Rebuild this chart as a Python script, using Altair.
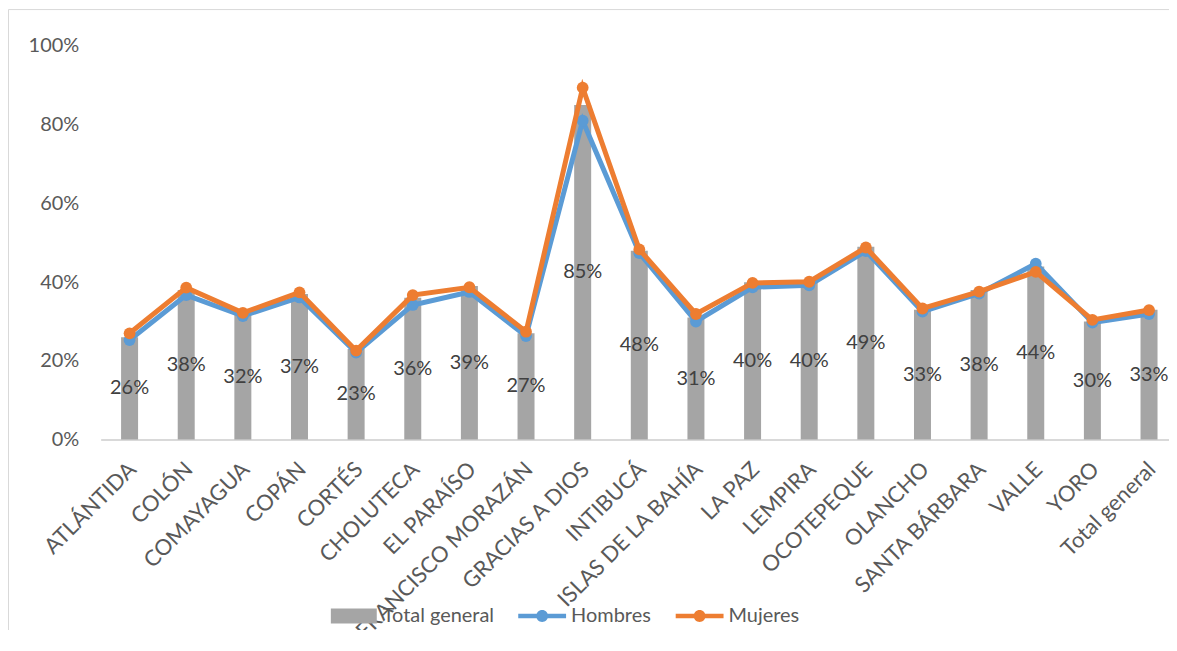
import altair as alt
import pandas as pd

categories = ["ATLÁNTIDA", "COLÓN", "COMAYAGUA", "COPÁN", "CORTÉS", "CHOLUTECA",
              "EL PARAÍSO", "FRANCISCO MORAZÁN", "GRACIAS A DIOS", "INTIBUCÁ",
              "ISLAS DE LA BAHÍA", "LA PAZ", "LEMPIRA", "OCOTEPEQUE", "OLANCHO",
              "SANTA BÁRBARA", "VALLE", "YORO", "Total general"]
total = [0.26, 0.38, 0.32, 0.37, 0.23, 0.36, 0.39, 0.27, 0.85, 0.48,
         0.31, 0.40, 0.40, 0.49, 0.33, 0.38, 0.44, 0.30, 0.33]
hombres = [0.253, 0.367, 0.314, 0.361, 0.221, 0.342, 0.375, 0.263, 0.810, 0.474,
           0.300, 0.387, 0.392, 0.479, 0.325, 0.371, 0.447, 0.297, 0.319]
mujeres = [0.270, 0.386, 0.322, 0.374, 0.226, 0.367, 0.387, 0.274, 0.894, 0.483,
           0.319, 0.398, 0.401, 0.488, 0.333, 0.376, 0.426, 0.304, 0.329]
series = ["Total general", "Hombres", "Mujeres"]
series_colors = ["#A5A5A5", "#5B9BD5", "#ED7D31"]
y_ticks = [0, 0.2, 0.4, 0.6, 0.8, 1.0]

df = pd.DataFrame({"cat": categories, "total": total,
                   "hombres": hombres, "mujeres": mujeres})
legend_df = pd.DataFrame({"series": series})

FONT = "Lato"
GRAY_TXT = "#595959"

rect_path = "M-0.96,-0.31H0.96V0.31H-0.96Z"
line_path = ("M-1,-0.09H1V0.09H-1Z "
             "M-0.25,0A0.25,0.25 0 1,1 0.25,0A0.25,0.25 0 1,1 -0.25,0Z")

x_enc = alt.X(
    "cat:N", sort=categories,
    scale=alt.Scale(paddingInner=0.7, paddingOuter=0.2815, align=0.64),
    axis=alt.Axis(title=None, labelAngle=-45, labelAlign="right",
                  labelBaseline="middle", labelFont=FONT, labelFontSize=22,
                  labelColor=GRAY_TXT, ticks=False, tickSize=0,
                  domainColor="#D9D9D9", domainWidth=2, labelPadding=26,
                  labelOffset=3, grid=False, labelOverlap=False, labelLimit=400),
)
y_scale = alt.Scale(domain=[0, 1])
y_axis = alt.Axis(title=None, values=y_ticks, format=".0%", domain=False,
                  ticks=False, tickSize=0, grid=False, labelFont=FONT,
                  labelFontSize=20, labelColor=GRAY_TXT, labelPadding=22)

base = alt.Chart(df)

frame = alt.Chart(pd.DataFrame({"a": [0]})).mark_rect(
    filled=False, stroke="#D9D9D9", strokeWidth=1
).encode(x=alt.value(-92.5), x2=alt.value(1200),
         y=alt.value(-36.5), y2=alt.value(800))

bars = base.mark_bar(color="#A5A5A5").encode(
    x=x_enc,
    y=alt.Y("total:Q", scale=y_scale, axis=y_axis),
)

labels = base.transform_calculate(mid="datum.total / 2").mark_text(
    font=FONT, fontSize=20, color="#404040"
).encode(
    x=x_enc,
    y=alt.Y("mid:Q", scale=y_scale, axis=y_axis),
    text=alt.Text("total:Q", format=".0%"),
)


def line_layers(field, color):
    ln = base.mark_line(color=color, strokeWidth=5).encode(
        x=x_enc, y=alt.Y(f"{field}:Q", scale=y_scale, axis=y_axis))
    pt = base.mark_point(filled=True, color=color, size=140, opacity=1).encode(
        x=x_enc, y=alt.Y(f"{field}:Q", scale=y_scale, axis=y_axis))
    return [ln, pt]


leg = alt.Legend(title=None, orient="none", legendX=230, legendY=548,
                 direction="horizontal", symbolSize=2304, symbolStrokeWidth=0,
                 symbolOpacity=1, labelFont=FONT, labelFontSize=20,
                 labelColor=GRAY_TXT, columnPadding=24, labelOffset=5)

legend_layer = alt.Chart(legend_df).transform_filter("false").mark_point(
    filled=True, opacity=1
).encode(
    color=alt.Color("series:N",
                    scale=alt.Scale(domain=series, range=series_colors),
                    legend=leg),
    shape=alt.Shape("series:N",
                    scale=alt.Scale(domain=series,
                                    range=[rect_path, line_path, line_path]),
                    legend=leg),
)

chart = alt.layer(
    frame, bars, labels,
    *line_layers("hombres", "#5B9BD5"),
    *line_layers("mujeres", "#ED7D31"),
    legend_layer,
).properties(
    width=1072, height=395,
    autosize=alt.AutoSizeParams(type="none"),
    padding={"left": 93, "top": 37, "right": 0, "bottom": 190},
    background="white",
).configure(font=FONT).configure_view(strokeWidth=0)

chart.save("out.html", embed_options={"renderer": "svg", "actions": False})
